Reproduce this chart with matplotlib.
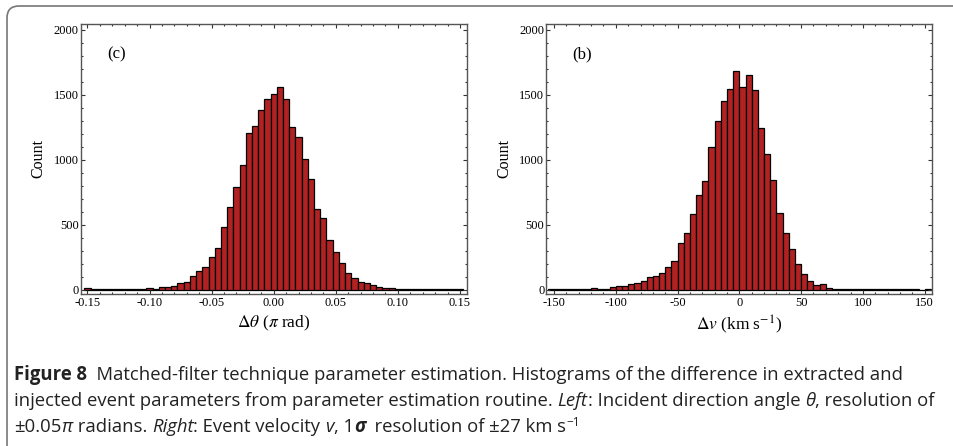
import numpy as np
import matplotlib
matplotlib.use("Agg")
import matplotlib.pyplot as plt
from matplotlib.patches import PathPatch
from matplotlib.path import Path
from matplotlib.ticker import MultipleLocator, FormatStrFormatter
from matplotlib.transforms import IdentityTransform

# histogram counts, left panel: bins centred on multiples of 0.005 (pi rad)
theta_centers = np.linspace(-0.15, 0.15, 61)
theta_counts = [18, 6, 5, 6, 5, 5, 6, 5, 6, 7,
                12, 9, 20, 22, 30,
                56, 64, 108, 146, 174, 256, 326, 487, 636, 795,
                959, 1210, 1264, 1382, 1469, 1508, 1564, 1469, 1251, 1179,
                1010, 856, 626, 551, 385, 295, 205, 128, 90, 64,
                51, 36, 26, 18,
                12, 9, 8, 7, 6, 6, 5, 5, 5, 4, 4, 4]

# right panel: 5 km/s bins, left edges from -155 to 150
v_edges = np.arange(-155, 151, 5)
v_counts = [6, 5, 5, 6, 5, 6, 6, 16, 9, 10,
            21, 28, 31, 43, 51, 69, 97, 108, 133, 180,
            223, 359, 436, 582, 731, 838, 1097, 1297, 1451, 1544,
            1688, 1565, 1652, 1538, 1249, 1046, 846, 590, 436, 318,
            197, 123, 72, 36, 43, 18, 10, 8,
            7, 6, 6, 5, 6, 5, 5, 4, 5, 4, 4, 4, 3, 4]

bar_color = "#b22222"
serif = ["Liberation Serif", "DejaVu Serif"]
cap_font = ["Open Sans", "Noto Sans", "DejaVu Sans"]
plt.rcParams["font.family"] = serif
plt.rcParams["mathtext.fontset"] = "stix"

fig = plt.figure(figsize=(9.54, 4.46), dpi=100)


def style_axes(ax, xmajor, xminor, fmt):
    ax.set_ylim(-31, 2046)
    ax.yaxis.set_major_locator(MultipleLocator(500))
    ax.yaxis.set_minor_locator(MultipleLocator(100))
    ax.xaxis.set_major_locator(MultipleLocator(xmajor))
    ax.xaxis.set_minor_locator(MultipleLocator(xminor))
    ax.xaxis.set_major_formatter(FormatStrFormatter(fmt))
    ax.tick_params(which="both", direction="in", top=True, right=True,
                   color="#333333", width=0.8)
    ax.tick_params(which="major", length=3.2, labelsize=9)
    ax.tick_params(which="minor", length=1.7)
    ax.tick_params(axis="y", pad=1.5)
    ax.tick_params(axis="x", pad=2.5)
    for sp in ax.spines.values():
        sp.set_color("#555555")
        sp.set_linewidth(1.0)
    ax.set_ylabel("Count", fontsize=11.5, labelpad=5)


ax1 = fig.add_axes([0.0846, 0.3408, 0.4046, 0.6054])
ax1.bar(theta_centers, theta_counts, width=0.005, color=bar_color,
        edgecolor="black", linewidth=0.9)
ax1.set_xlim(-0.1554, 0.1554)
style_axes(ax1, 0.05, 0.01, "%.2f")
ax1.set_xlabel(r"$\mathit{\Delta\theta}$ ($\pi$ rad)", fontsize=12.5, labelpad=3)
ax1.text(0.068, 0.889, "(c)", transform=ax1.transAxes, fontsize=12, va="center")

ax2 = fig.add_axes([0.5727, 0.3408, 0.4046, 0.6054])
ax2.bar(v_edges, v_counts, width=5, align="edge", color=bar_color,
        edgecolor="black", linewidth=0.9)
ax2.set_xlim(-156.2, 156.2)
style_axes(ax2, 50, 10, "%d")
ax2.set_xlabel(r"$\mathit{\Delta v}$ (km s$^{-1}$)", fontsize=12.5, labelpad=3)
ax2.text(0.066, 0.889, "(b)", transform=ax2.transAxes, fontsize=12, va="center")

# panel border: top edge and left edge joined by a rounded corner (pixels)
r = 12
border = Path([(960, 440), (7 + r, 440), (7, 440), (7, 440 - r), (7, -10)],
              [Path.MOVETO, Path.LINETO, Path.CURVE3, Path.CURVE3, Path.LINETO])
fig.add_artist(PathPatch(border, transform=IdentityTransform(), facecolor="none",
                         edgecolor="#777777", linewidth=1.2, clip_on=False))

# caption, drawn run by run so styles can change inside a line
renderer = fig.canvas.get_renderer()
cap_size = 13.35
BOLD = {"weight": "bold"}
ITAL = {"style": "italic"}
BOLDIT = {"weight": "bold", "style": "italic"}
SUP = {"size": 8.5, "dy": 6}


def advance(txt, props):
    a = fig.text(0, 0, "|" + txt + "|", **props)
    b = fig.text(0, 0, "||", **props)
    w = a.get_window_extent(renderer).width - b.get_window_extent(renderer).width
    a.remove()
    b.remove()
    return w


def draw_runs(x, y, runs):
    for txt, style in runs:
        style = dict(style)
        dy = style.pop("dy", 0)
        props = dict(fontsize=style.pop("size", cap_size), family=cap_font,
                     color="#222222", transform=IdentityTransform())
        props.update(style)
        fig.text(x, y + dy, txt, va="baseline", **props)
        x += advance(txt, props)


caption = [
    [("Figure 8", BOLD),
     ("  Matched-filter technique parameter estimation. Histograms of the "
      "difference in extracted and", {})],
    [("injected event parameters from parameter estimation routine. ", {}),
     ("Left", ITAL), (": Incident direction angle ", {}), ("θ", ITAL),
     (", resolution of", {})],
    [("±0.05", {}), ("π", ITAL), (" radians. ", {}), ("Right", ITAL),
     (": Event velocity ", {}), ("v", ITAL), (", 1", {}), ("σ", BOLDIT),
     ("  resolution of ±27 km s", {}), ("−1", SUP)],
]
for i, runs in enumerate(caption):
    draw_runs(14, 446 - 380 - 26 * i, runs)

fig.savefig("out.png", dpi=100)
